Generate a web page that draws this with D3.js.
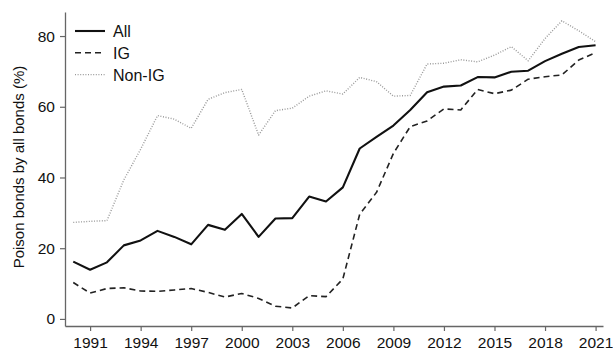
<!DOCTYPE html>
<html>
<head>
<meta charset="utf-8">
<script src="https://cdn.jsdelivr.net/npm/d3@7"></script>
<style>
  html, body { margin: 0; padding: 0; background: #fff; }
  svg { display: block; font-family: "Liberation Sans", Arial, sans-serif; }
</style>
</head>
<body>
<svg id="chart" width="613" height="352"></svg>
<script>
// Years covered by the series
const years = d3.range(1990, 2022);

// Share of poison bonds (%) per year
const allBonds = [16.2, 13.9, 16.0, 20.8, 22.2, 24.9, 23.2, 21.1, 26.6, 25.2,
  29.7, 23.2, 28.4, 28.5, 34.6, 33.2, 37.2, 48.2, 51.5, 54.7,
  59.1, 64.1, 65.7, 66.0, 68.4, 68.3, 69.9, 70.2, 72.9, 75.0,
  76.9, 77.4];
const igBonds = [10.3, 7.3, 8.6, 8.8, 7.9, 7.8, 8.2, 8.6, 7.5, 6.2,
  7.2, 5.8, 3.6, 3.1, 6.6, 6.3, 11.3, 29.6, 35.8, 46.8,
  54.4, 56.0, 59.4, 59.1, 64.9, 63.7, 64.7, 67.8, 68.5, 69.0,
  73.2, 75.3];
const nonIgBonds = [27.3, 27.6, 27.8, 39.3, 48.0, 57.5, 56.5, 53.9, 62.1, 64.0,
  64.9, 52.0, 58.9, 59.6, 63.0, 64.5, 63.6, 68.3, 67.1, 63.0,
  63.2, 72.1, 72.3, 73.3, 72.7, 74.6, 77.0, 73.0, 79.3, 84.3,
  81.5, 78.4];

const xTickYears = [1991, 1994, 1997, 2000, 2003, 2006, 2009, 2012, 2015, 2018, 2021];
const yTicks = [0, 20, 40, 60, 80];
const seriesNames = ["All", "IG", "Non-IG"];

const svg = d3.select("#chart");

const x = d3.scaleLinear().domain([1989.51, 2021.44]).range([65, 603]);
const y = d3.scaleLinear().domain([-2, 86.8]).range([326, 12]);

const styles = {
  "All":    { stroke: "#111", width: 2.1, dash: null },
  "IG":     { stroke: "#222", width: 1.6, dash: "6,4" },
  "Non-IG": { stroke: "#999", width: 1.4, dash: "1,1.6" }
};
const seriesData = { "All": allBonds, "IG": igBonds, "Non-IG": nonIgBonds };

// Axes
const xAxis = d3.axisBottom(x).tickValues(xTickYears).tickFormat(d3.format("d"))
  .tickSizeOuter(0).tickSizeInner(5).tickPadding(6);
const yAxis = d3.axisLeft(y).tickValues(yTicks).tickSizeOuter(0).tickSizeInner(5).tickPadding(5);

const gx = svg.append("g").attr("transform", "translate(0,326)").call(xAxis);
const gy = svg.append("g").attr("transform", "translate(65,0)").call(yAxis);

[gx, gy].forEach(g => {
  g.select(".domain").attr("stroke", "#666").attr("stroke-width", 1.3);
  g.selectAll(".tick line").attr("stroke", "#666").attr("stroke-width", 1.2);
  g.selectAll(".tick text").attr("fill", "#111").style("font-size", "15.5px")
    .style("font-family", "'Liberation Sans', Arial, sans-serif");
});

// Y axis title
svg.append("text")
  .attr("transform", "translate(24,167) rotate(-90)")
  .attr("text-anchor", "middle")
  .attr("fill", "#111")
  .style("font-size", "15px")
  .text("Poison bonds by all bonds (%)");

// Lines
const line = d3.line().x((d, i) => x(years[i])).y(d => y(d));
seriesNames.slice().reverse().forEach(name => {
  const s = styles[name];
  svg.append("path")
    .datum(seriesData[name])
    .attr("fill", "none")
    .attr("stroke", s.stroke)
    .attr("stroke-width", s.width)
    .attr("stroke-linejoin", "round")
    .attr("stroke-dasharray", s.dash)
    .attr("d", line);
});

// Legend
const legend = svg.append("g").attr("transform", "translate(75,31)");
seriesNames.forEach((name, i) => {
  const s = styles[name];
  const row = legend.append("g").attr("transform", `translate(0,${i * 21.8})`);
  row.append("line")
    .attr("x1", 0).attr("x2", 30).attr("y1", 0).attr("y2", 0)
    .attr("stroke", s.stroke).attr("stroke-width", s.width)
    .attr("stroke-dasharray", s.dash);
  row.append("text")
    .attr("x", 38).attr("y", 6)
    .attr("fill", "#111")
    .style("font-size", "16px")
    .text(name);
});
</script>
</body>
</html>
